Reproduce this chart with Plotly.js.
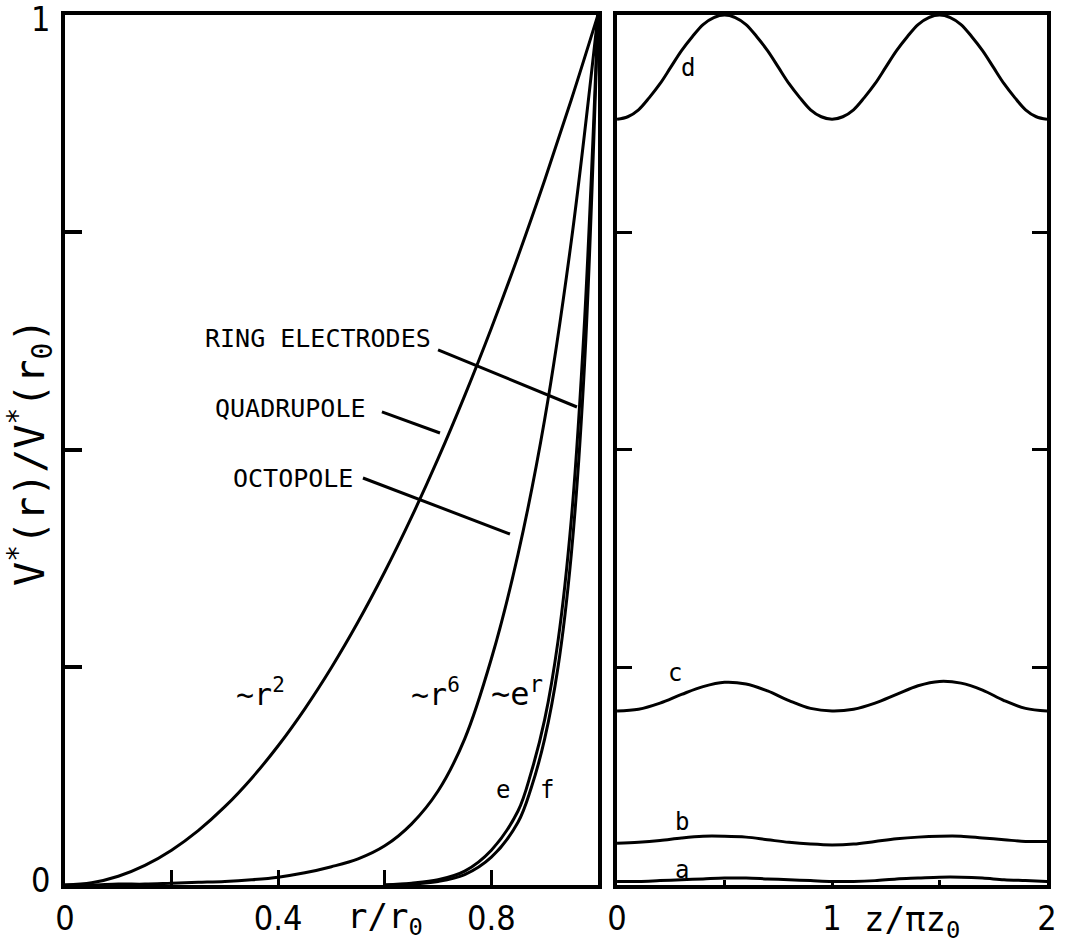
<!DOCTYPE html>
<html>
<head>
<meta charset="utf-8">
<script src="https://cdn.plot.ly/plotly-3.0.1.min.js"></script>
<style>html,body{margin:0;padding:0;background:#fff;}#chart{width:1067px;height:947px;}</style>
</head>
<body>
<div id="chart"></div>
<script>
// ---- Left panel: radial potential profiles ----
const rVals = [0, 0.05, 0.1, 0.15, 0.2, 0.25, 0.3, 0.35, 0.4, 0.45, 0.5, 0.55, 0.6, 0.65, 0.7, 0.75, 0.8, 0.85, 0.9, 0.95, 1.0];
const quadrupole = [0, 0.0025, 0.01, 0.0225, 0.04, 0.0625, 0.09, 0.1225, 0.16, 0.2025, 0.25, 0.3025, 0.36, 0.4225, 0.49, 0.5625, 0.64, 0.7225, 0.81, 0.9025, 1.0];
const octopole = [0, 0, 0.001, 0.001, 0.002, 0.003, 0.004, 0.006, 0.009, 0.014, 0.021, 0.03, 0.045, 0.07, 0.108, 0.168, 0.26, 0.38, 0.535, 0.74, 1.0];
const rRing = [0.6, 0.65, 0.7, 0.75, 0.8, 0.85, 0.875, 0.9, 0.925, 0.95, 0.975, 1.0];
const ringE = [0, 0.002, 0.006, 0.016, 0.04, 0.085, 0.13, 0.19, 0.28, 0.42, 0.65, 1.0];
const ringF = [0, 0.001, 0.004, 0.012, 0.032, 0.072, 0.112, 0.168, 0.25, 0.38, 0.6, 1.0];

// ---- Right panel: axial variation ----
const zFine = [0, 0.05, 0.1, 0.15, 0.2, 0.25, 0.3, 0.35, 0.4, 0.45, 0.5, 0.55, 0.6, 0.65, 0.7, 0.75, 0.8, 0.85, 0.9, 0.95,
               1.0, 1.05, 1.1, 1.15, 1.2, 1.25, 1.3, 1.35, 1.4, 1.45, 1.5, 1.55, 1.6, 1.65, 1.7, 1.75, 1.8, 1.85, 1.9, 1.95, 2.0];
const curveD = [0.88, 0.883, 0.891, 0.905, 0.921, 0.94, 0.959, 0.975, 0.989, 0.997, 1.0, 0.997, 0.989, 0.975, 0.959, 0.94, 0.921, 0.905, 0.891, 0.883,
                0.88, 0.883, 0.891, 0.905, 0.921, 0.94, 0.959, 0.975, 0.989, 0.997, 1.0, 0.997, 0.989, 0.975, 0.959, 0.94, 0.921, 0.905, 0.891, 0.883, 0.88];
const zVals = [0, 0.1, 0.2, 0.3, 0.4, 0.5, 0.6, 0.7, 0.8, 0.9, 1.0, 1.1, 1.2, 1.3, 1.4, 1.5, 1.6, 1.7, 1.8, 1.9, 2.0];
const curveC = [0.2, 0.202, 0.209, 0.219, 0.228, 0.233, 0.231, 0.223, 0.212, 0.203, 0.2, 0.202, 0.209, 0.219, 0.229, 0.234, 0.232, 0.224, 0.212, 0.203, 0.2];
const curveB = [0.048, 0.049, 0.051, 0.054, 0.056, 0.056, 0.055, 0.052, 0.049, 0.047, 0.046, 0.047, 0.05, 0.053, 0.055, 0.056, 0.056, 0.054, 0.052, 0.05, 0.05];
const curveA = [0.004, 0.004, 0.005, 0.006, 0.007, 0.008, 0.008, 0.007, 0.006, 0.005, 0.004, 0.004, 0.005, 0.007, 0.008, 0.009, 0.009, 0.008, 0.006, 0.005, 0.004];

// ---- Tick positions and labels ----
const leftXTicks = [0, 0.2, 0.4, 0.6, 0.8];
const leftXLabels = ["0", "", "0.4", "", "0.8"];
const yTicks = [0.25, 0.5, 0.75];
const yEndLabels = ["0", "1"];
const rightXTicks = [0, 0.5, 1, 1.5, 2];
const rightXLabels = ["0", "", "1", "", "2"];

const TICKFONT = "'DejaVu Sans Condensed', 'DejaVu Sans', sans-serif";
const MONO = "'DejaVu Sans Mono', 'Liberation Mono', monospace";
const ln = {color: 'black', width: 3, shape: 'spline', smoothing: 1};

function tr(x, y, xa, ya) {
  return {x: x, y: y, xaxis: xa, yaxis: ya, mode: 'lines', line: ln, hoverinfo: 'skip'};
}

const data = [
  tr(rVals, quadrupole, 'x', 'y'),
  tr(rVals, octopole, 'x', 'y'),
  tr(rRing, ringE, 'x', 'y'),
  tr(rRing, ringF, 'x', 'y'),
  tr(zFine, curveD, 'x2', 'y2'),
  tr(zVals, curveC, 'x2', 'y2'),
  tr(zVals, curveB, 'x2', 'y2'),
  tr(zVals, curveA, 'x2', 'y2')
];

const axBase = {
  showline: true, linecolor: 'black', linewidth: 4, mirror: true,
  showgrid: false, zeroline: false, ticks: 'inside', tickcolor: 'black',
  tickwidth: 3, tickfont: {family: TICKFONT, size: 34, color: 'black'}
};

function ann(text, x, y, xref, yref, size, extra) {
  return Object.assign({text: text, x: x, y: y, xref: xref, yref: yref, showarrow: false,
    font: {family: MONO, size: size, color: 'black'}, xanchor: 'center', yanchor: 'middle'}, extra || {});
}

function seg(x0, y0, x1, y1) {
  return {type: 'line', xref: 'x', yref: 'y', x0: x0, y0: y0, x1: x1, y1: y1,
    line: {color: 'black', width: 3}};
}

const tickFontObj = {family: TICKFONT, size: 34, color: 'black'};

const layout = {
  width: 1067, height: 947,
  margin: {l: 0, r: 0, t: 0, b: 0},
  paper_bgcolor: 'white', plot_bgcolor: 'white',
  showlegend: false,
  xaxis: Object.assign({}, axBase, {domain: [0.0609, 0.5604], range: [0, 1],
    tickvals: leftXTicks, ticktext: leftXLabels, ticklen: 15, ticklabelstandoff: 0}),
  yaxis: Object.assign({}, axBase, {domain: [0.0655, 0.9842], range: [0, 1],
    tickmode: 'array', tickvals: yTicks, showticklabels: false, ticklen: 17, tickwidth: 4}),
  xaxis2: Object.assign({}, axBase, {domain: [0.5783, 0.9813], range: [0, 2], anchor: 'y2',
    tickvals: rightXTicks, ticktext: rightXLabels, ticklen: 5, ticklabelstandoff: 0}),
  yaxis2: Object.assign({}, axBase, {domain: [0.0655, 0.9842], range: [0, 1], anchor: 'x2',
    mirror: 'ticks', tickmode: 'array', tickvals: yTicks, showticklabels: false, ticklen: 15}),
  annotations: [
    {text: yEndLabels[1], x: 0.0375, y: 0.98, xref: 'paper', yref: 'paper', showarrow: false,
     font: tickFontObj, xanchor: 'center', yanchor: 'middle'},
    {text: yEndLabels[0], x: 0.0375, y: 0.0708, xref: 'paper', yref: 'paper', showarrow: false,
     font: tickFontObj, xanchor: 'center', yanchor: 'middle'},
    ann('V<sup>*</sup>(r)/V<sup>*</sup>(r<sub>0</sub>)', 0.028, 0.5227, 'paper', 'paper', 40, {textangle: -90}),
    ann('r/r<sub>0</sub>', 0.3608, 0.0306, 'paper', 'paper', 34),
    ann('z/\u03c0z<sub>0</sub>', 0.8547, 0.0264, 'paper', 'paper', 34),
    ann('RING ELECTRODES', 0.4756, 0.6276, 'x', 'y', 25),
    ann('QUADRUPOLE', 0.424, 0.548, 'x', 'y', 25),
    ann('OCTOPOLE', 0.427, 0.4667, 'x', 'y', 25),
    ann('~r<sup>2</sup>', 0.3677, 0.2218, 'x', 'y', 30),
    ann('~r<sup>6</sup>', 0.696, 0.2218, 'x', 'y', 30),
    ann('~e<sup>r</sup>', 0.848, 0.222, 'x', 'y', 32),
    ann('e', 0.8218, 0.109, 'x', 'y', 24),
    ann('f', 0.904, 0.109, 'x', 'y', 24),
    ann('d', 0.33, 0.939, 'x2', 'y2', 24),
    ann('c', 0.27, 0.244, 'x2', 'y2', 24),
    ann('b', 0.30, 0.072, 'x2', 'y2', 24),
    ann('a', 0.30, 0.017, 'x2', 'y2', 24)
  ],
  shapes: [
    seg(0.700, 0.615, 0.9606, 0.5494),
    seg(0.5947, 0.5437, 0.7036, 0.5195),
    seg(0.5591, 0.4678, 0.8349, 0.4034)
  ]
};

Plotly.newPlot('chart', data, layout, {displayModeBar: false, staticPlot: true});
</script>
</body>
</html>
